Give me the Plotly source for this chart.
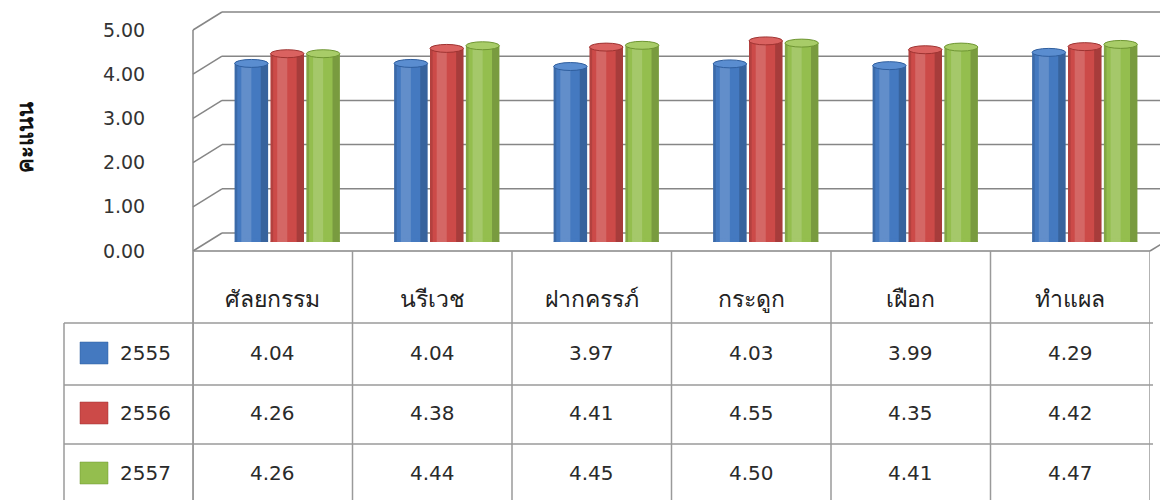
import plotly.graph_objects as go

# ---------------- data ----------------
categories = ["ศัลยกรรม", "นรีเวช", "ฝากครรภ์", "กระดูก", "เฝือก", "ทำแผล"]
series_names = ["2555", "2556", "2557"]
s2555 = [4.04, 4.04, 3.97, 4.03, 3.99, 4.29]
s2556 = [4.26, 4.38, 4.41, 4.55, 4.35, 4.42]
s2557 = [4.26, 4.44, 4.45, 4.50, 4.41, 4.47]
y_ticks = [0, 1, 2, 3, 4, 5]
y_title = "คะแนน"

series_values = [s2555, s2556, s2557]
colors = ["#4479C0", "#CC4A48", "#94BE4E"]
cap_colors = ["#5A8DD0", "#DA6260", "#A8CC68"]
edge_colors = ["#2F5E9E", "#9E3331", "#6F9633"]

# page is 1168x500; the html body has an 8px margin, so the figure is sized to fit
PAGE_W, PAGE_H, OFF = 1168, 500, 8
W, H = PAGE_W - OFF, PAGE_H - OFF
def px(x):
    return (x - OFF) / W
def py(y):
    return 1 - (y - OFF) / H

FONT = "DejaVu Sans, Noto Sans, sans-serif"
GRID = "#868686"
TABLE = "#9A9A9A"

# geometry (page pixels)
front_left, front_right = 193, 1150
front_y0, front_y5 = 251, 30
dx, dy = 29, 18          # depth offset of back wall
unit = (front_y0 - front_y5) / 5.0

fig = go.Figure()

bar_w = 0.21
pitch = 0.225
ry = 0.09
shapes = []
for k, (name, vals) in enumerate(zip(series_names, series_values)):
    off = -bar_w / 2 + (k - 1) * pitch
    fig.add_trace(go.Bar(
        x=list(range(len(categories))), y=vals, name=name,
        width=bar_w, offset=off,
        marker=dict(color=colors[k], line=dict(width=0)),
        xaxis="x", yaxis="y", showlegend=False,
        hovertemplate="%{y:.2f}<extra>" + name + "</extra>",
    ))
    for i, v in enumerate(vals):
        L = i + off
        shapes.append(dict(type="circle", xref="x", yref="y", x0=L, x1=L + bar_w,
                           y0=-ry, y1=ry, fillcolor=colors[k], line=dict(width=0), layer="above"))
        shapes.append(dict(type="rect", xref="x", yref="y", x0=L + 0.2 * bar_w, x1=L + 0.5 * bar_w,
                           y0=0, y1=v, fillcolor="rgba(255,255,255,0.16)", line=dict(width=0), layer="above"))
        shapes.append(dict(type="rect", xref="x", yref="y", x0=L, x1=L + 0.08 * bar_w,
                           y0=0, y1=v, fillcolor="rgba(0,0,0,0.12)", line=dict(width=0), layer="above"))
        shapes.append(dict(type="rect", xref="x", yref="y", x0=L + 0.78 * bar_w, x1=L + bar_w,
                           y0=0, y1=v, fillcolor="rgba(0,0,0,0.18)", line=dict(width=0), layer="above"))
        shapes.append(dict(type="circle", xref="x", yref="y", x0=L, x1=L + bar_w,
                           y0=v - ry, y1=v + ry, fillcolor=cap_colors[k],
                           line=dict(width=1, color=edge_colors[k]), layer="above"))

# hidden trace to carry the front axis (tick labels)
fig.add_trace(go.Scatter(x=[None], y=[None], xaxis="x2", yaxis="y2",
                         showlegend=False, hoverinfo="skip"))

# ---------------- 3D frame (back wall, side wall, floor) ----------------
back_left = front_left + dx
for t in y_ticks:
    yf = front_y0 - t * unit
    yb = yf - dy
    shapes.append(dict(type="line", xref="paper", yref="paper",
                       x0=px(back_left), x1=px(PAGE_W), y0=py(yb), y1=py(yb),
                       line=dict(color=GRID, width=1.5), layer="below"))
    shapes.append(dict(type="line", xref="paper", yref="paper",
                       x0=px(front_left), x1=px(back_left), y0=py(yf), y1=py(yb),
                       line=dict(color=GRID, width=1.5), layer="below"))
shapes.append(dict(type="line", xref="paper", yref="paper",
                   x0=px(front_left), x1=px(front_left), y0=py(front_y5), y1=py(PAGE_H),
                   line=dict(color=GRID, width=1.5), layer="below"))
shapes.append(dict(type="line", xref="paper", yref="paper",
                   x0=px(front_left), x1=px(front_right), y0=py(front_y0), y1=py(front_y0),
                   line=dict(color=GRID, width=1.5), layer="below"))
shapes.append(dict(type="line", xref="paper", yref="paper",
                   x0=px(front_right), x1=px(front_right + dx), y0=py(front_y0), y1=py(front_y0 - dy),
                   line=dict(color=GRID, width=1.5), layer="below"))

# ---------------- data table ----------------
row_top = [323, 385, 444]
row_bot = [385, 444, 502]
label_left = 64
n = len(categories)
for j in range(n + 1):
    shapes.append(dict(type="line", xref="x2", yref="paper",
                       x0=j - 0.5, x1=j - 0.5, y0=py(front_y0), y1=py(PAGE_H),
                       line=dict(color=TABLE, width=1.5), layer="below"))
shapes.append(dict(type="line", xref="paper", yref="paper",
                   x0=px(label_left), x1=px(label_left), y0=py(row_top[0]), y1=py(PAGE_H),
                   line=dict(color=TABLE, width=1.5), layer="below"))
for yline in row_top:
    shapes.append(dict(type="line", xref="paper", yref="paper",
                       x0=px(label_left), x1=px(front_right + 3), y0=py(yline), y1=py(yline),
                       line=dict(color=TABLE, width=1.5), layer="below"))

annotations = []
header_y = 299
for i, c in enumerate(categories):
    annotations.append(dict(x=i, y=py(header_y), xref="x2", yref="paper", text=c,
                            xanchor="center", yanchor="middle", showarrow=False,
                            font=dict(family=FONT, size=23, color="#222222")))
row_text_y = [353, 413, 473]
for k, (name, vals) in enumerate(zip(series_names, series_values)):
    yc = row_text_y[k]
    for i, v in enumerate(vals):
        annotations.append(dict(x=i, y=py(yc), xref="x2", yref="paper", text=f"{v:.2f}",
                                xanchor="center", yanchor="middle", showarrow=False,
                                font=dict(family=FONT, size=20, color="#2A2A2A")))
    shapes.append(dict(type="rect", xref="paper", yref="paper",
                       x0=px(80), x1=px(108), y0=py(yc - 11), y1=py(yc + 11),
                       fillcolor=colors[k], line=dict(color=edge_colors[k], width=0.5)))
    annotations.append(dict(x=px(118), y=py(yc), xref="paper", yref="paper", text=name,
                            xanchor="left", yanchor="middle", showarrow=False,
                            font=dict(family=FONT, size=20, color="#2A2A2A")))

annotations.append(dict(x=px(26), y=py(138), xref="paper", yref="paper", text="<b>" + y_title + "</b>",
                        xanchor="center", yanchor="middle", textangle=-90, showarrow=False,
                        font=dict(family=FONT, size=22, color="#111111")))

bar_y0, bar_y5 = 242, 242 - 5 * unit
fig.update_layout(
    width=W, height=H,
    margin=dict(l=0, r=0, t=0, b=0, autoexpand=False),
    paper_bgcolor="white", plot_bgcolor="rgba(0,0,0,0)",
    barmode="overlay",
    xaxis=dict(domain=[px(front_left + dx / 2), px(front_right + dx / 2)], range=[-0.5, n - 0.5],
               visible=False, anchor="y", fixedrange=True),
    yaxis=dict(domain=[py(bar_y0), py(bar_y5)], range=[0, 5], visible=False, anchor="x", fixedrange=True),
    xaxis2=dict(domain=[px(front_left), px(front_right)], range=[-0.5, n - 0.5],
                visible=False, anchor="y2", fixedrange=True),
    yaxis2=dict(domain=[py(front_y0), py(front_y5)], range=[0, 5], anchor="free",
                position=px(front_left), tickvals=y_ticks, tickformat=".2f",
                ticks="outside", ticklen=44, tickcolor="rgba(0,0,0,0)", automargin=False,
                showgrid=False, zeroline=False, showline=False, fixedrange=True,
                tickfont=dict(family=FONT, size=19, color="#333333")),
    shapes=shapes,
    annotations=annotations,
)

fig.write_html("out.html")
